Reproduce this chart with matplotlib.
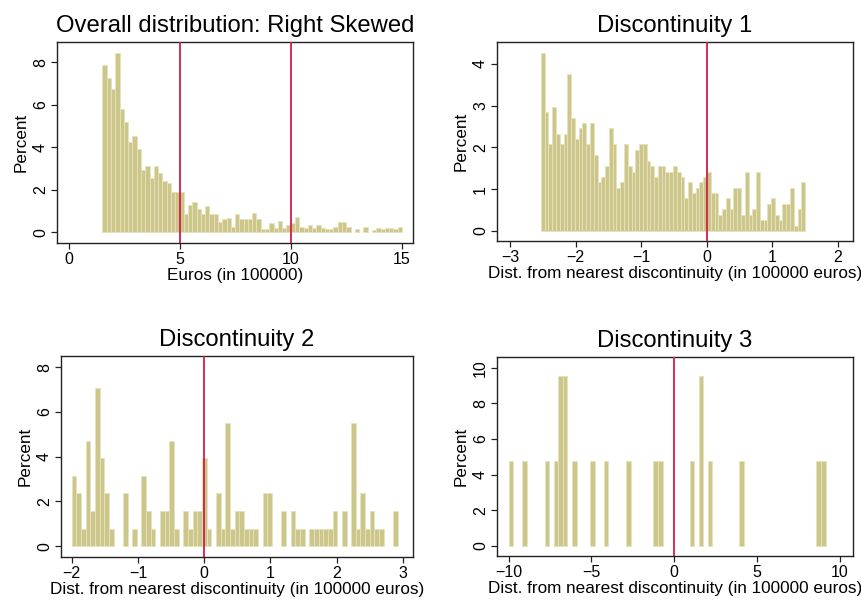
import numpy as np
import matplotlib
matplotlib.use("Agg")
import matplotlib.pyplot as plt

plt.rcParams['font.family'] = ['Liberation Sans', 'DejaVu Sans']

# ---------------- data (percent per bin, 70 bins each) ----------------
p1_range = (1.5, 15.0)
p1_pct = [7.85, 7.27, 6.75, 8.45, 5.81, 5.21, 4.24, 4.55, 3.92, 2.93,
          3.14, 2.56, 3.14, 2.77, 2.43, 2.32, 1.88, 1.88, 1.92, 0.86,
          1.30, 1.44, 1.09, 0.86, 1.24, 0.86, 0.86, 0.51, 0.61, 0.67,
          0.26, 0.86, 0.61, 0.61, 0.61, 0.92, 0.61, 0.17, 0.17, 0.42,
          0.20, 0.54, 0.20, 0.35, 0.42, 0.73, 0.27, 0.20, 0.34, 0.20,
          0.34, 0.20, 0.15, 0.15, 0.27, 0.48, 0.48, 0.27, 0.00, 0.15,
          0.00, 0.27, 0.00, 0.10, 0.20, 0.15, 0.20, 0.20, 0.15, 0.25]
p1_lines = [5, 10]

p2_range = (-2.53, 1.50)
p2_pct = [4.26, 2.85, 2.07, 2.97, 2.32, 2.07, 2.32, 3.75, 2.71, 2.20,
          2.46, 2.59, 2.07, 2.59, 1.81, 1.16, 1.30, 1.55, 2.46, 2.07,
          1.03, 1.16, 2.07, 1.55, 1.42, 1.93, 2.07, 2.07, 1.68, 1.55,
          1.30, 1.55, 1.55, 1.42, 1.42, 1.55, 1.42, 1.30, 0.78, 1.16,
          0.91, 1.03, 1.16, 1.30, 1.42, 0.91, 0.91, 0.39, 0.52, 0.78,
          0.52, 1.03, 1.03, 0.39, 1.42, 0.39, 0.52, 1.42, 0.26, 0.26,
          0.65, 0.78, 0.39, 0.26, 0.65, 0.65, 1.03, 0.13, 0.52, 1.16]

p3_range = (-2.0, 2.92)
p3_counts = [4, 3, 1, 6, 2, 9, 5, 3, 1, 0,
             0, 3, 0, 1, 0, 4, 2, 1, 0, 2,
             2, 6, 1, 0, 2, 1, 2, 2, 5, 1,
             0, 3, 1, 7, 1, 2, 2, 1, 1, 1,
             0, 3, 3, 0, 0, 2, 0, 2, 1, 1,
             0, 1, 1, 1, 1, 1, 2, 0, 2, 0,
             7, 1, 3, 1, 2, 1, 1, 0, 0, 2]

p4_range = (-10.0, 9.14)
p4_counts = [1, 0, 0, 1, 0, 0, 0, 0, 1, 0,
             1, 2, 2, 0, 1, 0, 0, 0, 1, 0,
             0, 1, 0, 0, 0, 0, 1, 0, 0, 0,
             0, 0, 1, 1, 0, 0, 0, 0, 0, 0,
             1, 0, 2, 0, 1, 0, 0, 0, 0, 0,
             0, 1, 0, 0, 0, 0, 0, 0, 0, 0,
             0, 0, 0, 0, 0, 0, 0, 0, 1, 1]

titles = ["Overall distribution: Right Skewed", "Discontinuity 1",
          "Discontinuity 2", "Discontinuity 3"]
xlabels = ["Euros (in 100000)",
           "Dist. from nearest discontinuity (in 100000 euros)",
           "Dist. from nearest discontinuity (in 100000 euros)",
           "Dist. from nearest discontinuity (in 100000 euros)"]
xticks = [[0, 5, 10, 15], [-3, -2, -1, 0, 1, 2], [-2, -1, 0, 1, 2, 3],
          [-10, -5, 0, 5, 10]]
yticks = [[0, 2, 4, 6, 8], [0, 1, 2, 3, 4], [0, 2, 4, 6, 8],
          [0, 2, 4, 6, 8, 10]]

# ---------------- styling ----------------
W, H = 862, 601
BAR = "#cdc68a"
EDGE = "#e6e2bd"
RED = "#cf1d48"

fig = plt.figure(figsize=(W / 100, H / 100), dpi=100)

# axes frames in pixels (left, top, right, bottom)
frames = [(57, 42, 413, 243), (497, 42, 853, 241),
          (61, 356, 413, 557), (497, 357, 853, 556)]
xlims = [(-0.55, 15.5), (-3.2, 2.23), (-2.16, 3.15), (-10.7, 10.8)]
ylims = [(-0.5, 8.95), (-0.24, 4.52), (-0.48, 8.5), (-0.56, 10.6)]

pct3 = np.array(p3_counts) / np.sum(p3_counts) * 100
pct4 = np.array(p4_counts) / np.sum(p4_counts) * 100
data = [(p1_range, np.array(p1_pct)), (p2_range, np.array(p2_pct)),
        (p3_range, pct3), (p4_range, pct4)]
vlines = [p1_lines, [0], [0], [0]]

for k in range(4):
    l, t, r, b = frames[k]
    ax = fig.add_axes([l / W, 1 - b / H, (r - l) / W, (b - t) / H])
    (lo, hi), vals = data[k]
    n = len(vals)
    edges = np.linspace(lo, hi, n + 1)
    w = edges[1] - edges[0]
    mask = vals > 0
    ax.bar(edges[:-1][mask], vals[mask], width=w, align='edge',
           color=BAR, edgecolor=EDGE, linewidth=0.6, zorder=2)
    for v in vlines[k]:
        ax.axvline(v, color=RED, lw=1.3, zorder=3)
    ax.set_xlim(*xlims[k])
    ax.set_ylim(*ylims[k])
    ax.set_xticks(xticks[k])
    ax.set_yticks(yticks[k])
    ax.set_yticklabels([str(v) for v in yticks[k]], rotation=90, va='center')
    ax.tick_params(labelsize=11.5, length=4, width=0.9, color='#222222', pad=2.5)
    for s in ax.spines.values():
        s.set_linewidth(1.0)
        s.set_color('#222222')
    ax.set_xlabel(xlabels[k], fontsize=12.3, labelpad=1)
    ax.set_ylabel("Percent", fontsize=12.3, labelpad=3)
    ax.set_title(titles[k], fontsize=17.2, pad=7.5)

fig.savefig("out.png", dpi=100, facecolor='white')
